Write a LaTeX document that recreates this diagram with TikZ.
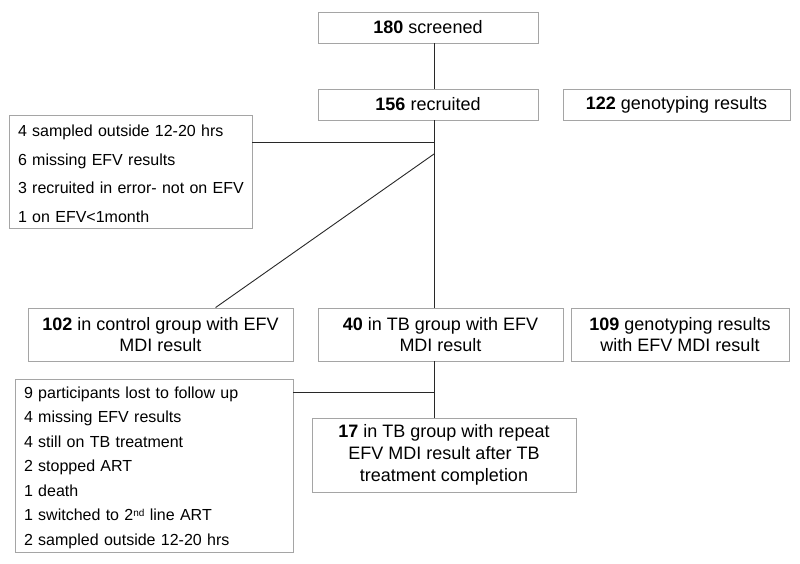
\documentclass[tikz,border=0pt]{standalone}
\usepackage{fontspec}
\setmainfont{Liberation Sans}
\definecolor{boxgray}{RGB}{165,165,165}
\definecolor{linegray}{RGB}{40,40,40}
\begin{document}
\begin{tikzpicture}[x=1pt,y=-1pt,
  box/.style={draw=boxgray, line width=0.9pt, fill=white, align=center, inner sep=0pt,
              font=\fontsize{18}{21.7}\selectfont},
  listbox/.style={draw=boxgray, line width=0.9pt, fill=white, align=left, inner xsep=9pt, inner ysep=0pt},
  conn/.style={draw=linegray, line width=0.9pt}]
\useasboundingbox (0,0) rectangle (800,563);
\fill[white] (0,0) rectangle (800,563);

% top
\node[box, minimum width=220pt, minimum height=31pt] (scr) at (428,27.5) {\textbf{180} screened};
\node[box, minimum width=220pt, minimum height=31pt] (rec) at (428,104.5) {\textbf{156} recruited};
\node[box, minimum width=227pt, minimum height=31pt] (gen1) at (676.5,104.5) {\textbf{122} genotyping results};

% first exclusion box
\node[listbox, text width=225pt, minimum height=113pt, font=\fontsize{16}{28.7}\selectfont] (ex1) at (130.5,171.5)
  {\rule{0pt}{16pt}\mbox{4 sampled outside 12-20 hrs}\\\mbox{6 missing EFV results}\\\mbox{3 recruited in error- not on EFV}\\\mbox{1 on EFV<1month}};

% middle row
\node[box, minimum width=265pt, minimum height=53pt] (ctrl) at (160.5,334.5) {\textbf{102} in control group with EFV\\MDI result};
\node[box, minimum width=245pt, minimum height=53pt] (tb) at (440.5,334.5) {\textbf{40} in TB group with EFV\\MDI result};
\node[box, minimum width=218pt, minimum height=53pt] (gen2) at (680,334.5) {\textbf{109} genotyping results\\with EFV MDI result};

% second exclusion box
\node[listbox, text width=260pt, minimum height=173pt, font=\fontsize{16}{24.5}\selectfont] (ex2) at (154,465.5)
  {\rule{0pt}{16pt}\mbox{9 participants lost to follow up}\\\mbox{4 missing EFV results}\\\mbox{4 still on TB treatment}\\\mbox{2 stopped ART}\\\mbox{1 death}\\\mbox{1 switched to 2{\fontsize{10}{10}\selectfont\raisebox{4pt}{nd}} line ART}\\\mbox{2 sampled outside 12-20 hrs}};

% final box
\node[box, minimum width=264pt, minimum height=74pt] (fin) at (444,455) {\textbf{17} in TB group with repeat\\EFV MDI result after TB\\treatment completion};

% junctions
\coordinate (j1) at (434,142);
\coordinate (j2) at (434,154);
\coordinate (j3) at (434,392);

% connectors
\draw[conn] (scr.south -| j1) -- (rec.north -| j1);
\draw[conn] (rec.south -| j1) -- (tb.north -| j1);
\draw[conn] (ex1.east |- j1) -- (j1);
\draw[conn] (j2) -- ([xshift=188pt]ctrl.north west);
\draw[conn] (tb.south -| j1) -- (fin.north -| j1);
\draw[conn] (ex2.east |- j3) -- (j3);
\end{tikzpicture}
\end{document}
